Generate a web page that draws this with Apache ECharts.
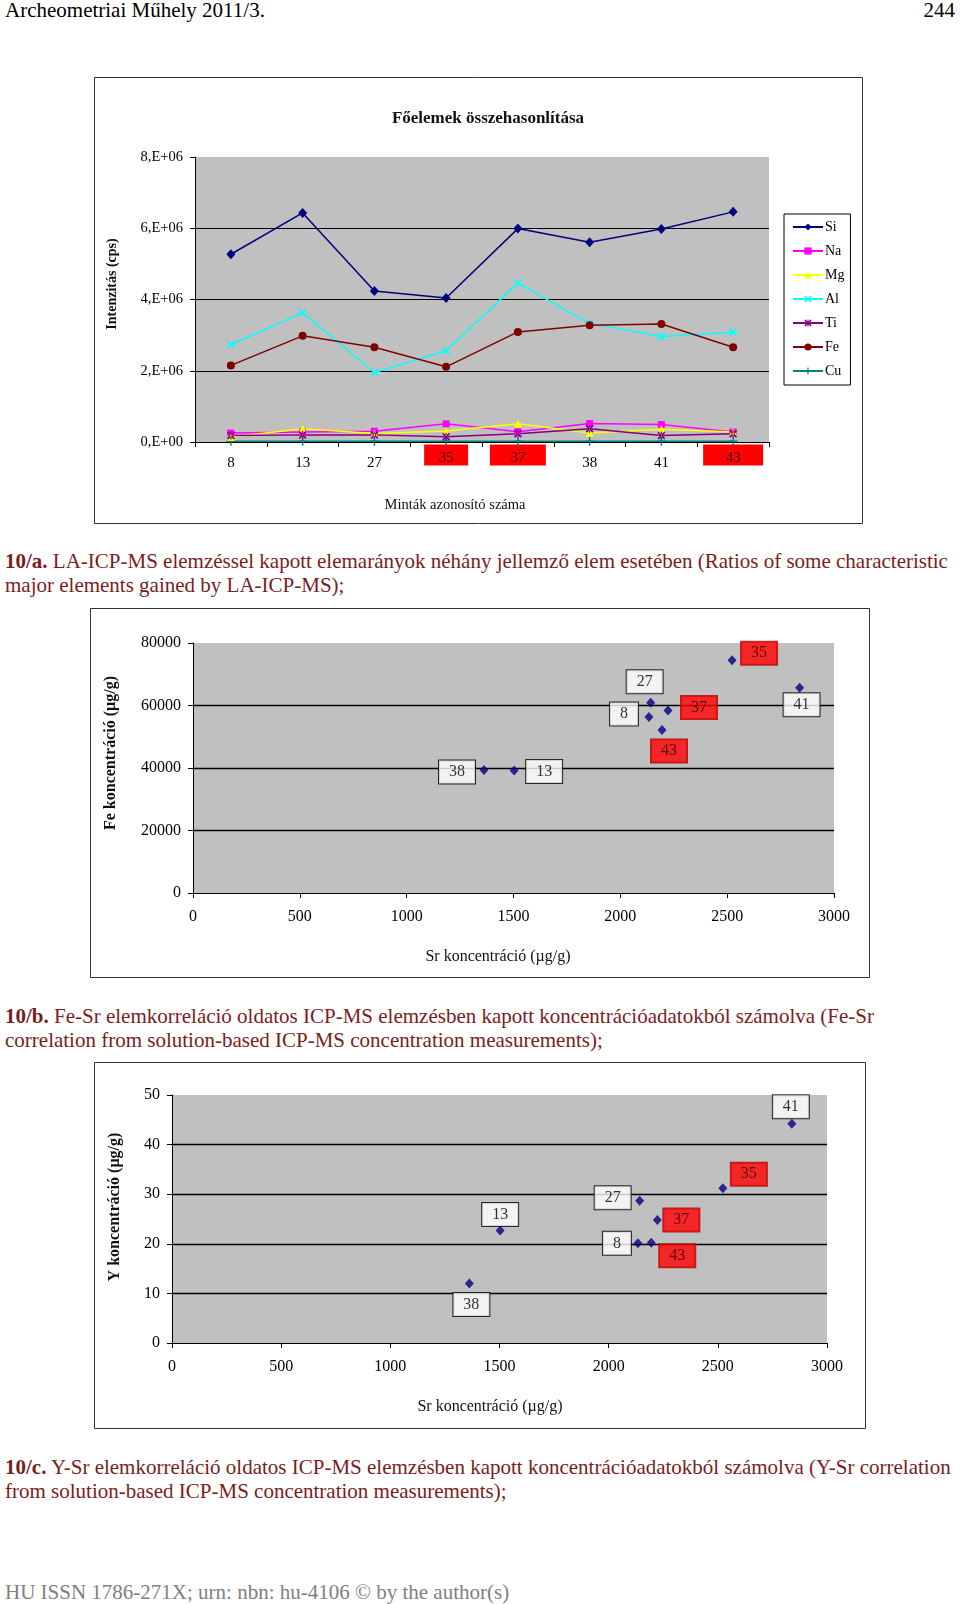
<!DOCTYPE html>
<html><head><meta charset="utf-8">
<script src="https://cdn.jsdelivr.net/npm/echarts@6/dist/echarts.min.js"></script>
<style>
body{margin:0;background:#fff;width:960px;height:1604px;position:relative;overflow:hidden;font-family:"Liberation Serif",serif;}
.t{position:absolute;left:5px;font-size:21px;line-height:24px;white-space:nowrap;color:#7a1d1d;}
.c{position:absolute;}
</style></head><body>
<div class="t" style="top:-2px;color:#000">Archeometriai Műhely 2011/3.</div>
<div class="t" style="top:-2px;left:auto;right:5px;color:#000">244</div>
<div class="c" id="c1" style="left:94px;top:77px;width:769px;height:447px"></div>
<div class="t" style="top:549px"><b>10/a.</b> LA-ICP-MS elemzéssel kapott elemarányok néhány jellemző elem esetében (Ratios of some characteristic<br>major elements gained by LA-ICP-MS);</div>
<div class="c" id="c2" style="left:90px;top:608px;width:780px;height:370px"></div>
<div class="t" style="top:1004px"><b>10/b.</b> Fe-Sr elemkorreláció oldatos ICP-MS elemzésben kapott koncentrációadatokból számolva (Fe-Sr<br>correlation from solution-based ICP-MS concentration measurements);</div>
<div class="c" id="c3" style="left:94px;top:1062px;width:772px;height:367px"></div>
<div class="t" style="top:1455px"><b>10/c.</b> Y-Sr elemkorreláció oldatos ICP-MS elemzésben kapott koncentrációadatokból számolva (Y-Sr correlation<br>from solution-based ICP-MS concentration measurements);</div>
<div class="t" style="top:1580px;color:#808080">HU ISSN 1786-271X; urn: nbn: hu-4106 © by the author(s)</div>
<script>
// ---- data ----
const samples = ['8','13','27','35','37','38','41','43'];
const highlighted = ['35','37','43'];
const elementNames = ['Si','Na','Mg','Al','Ti','Fe','Cu'];
const si = [5.27e6, 6.43e6, 4.24e6, 4.04e6, 5.99e6, 5.61e6, 5.98e6, 6.46e6];
const na = [0.25e6, 0.28e6, 0.30e6, 0.51e6, 0.29e6, 0.52e6, 0.49e6, 0.28e6];
const mg = [0.14e6, 0.37e6, 0.24e6, 0.31e6, 0.51e6, 0.25e6, 0.36e6, 0.28e6];
const al = [2.73e6, 3.63e6, 1.95e6, 2.56e6, 4.46e6, 3.33e6, 2.96e6, 3.08e6];
const ti = [0.18e6, 0.20e6, 0.20e6, 0.15e6, 0.23e6, 0.37e6, 0.18e6, 0.23e6];
const fe = [2.15e6, 2.98e6, 2.66e6, 2.11e6, 3.09e6, 3.28e6, 3.31e6, 2.66e6];
const cu = [0.02e6, 0.02e6, 0.02e6, 0.02e6, 0.02e6, 0.02e6, 0.02e6, 0.02e6];
// solution ICP-MS (same sample order)
const srConc = [2134, 1503, 2142, 2523, 2223, 1362, 2839, 2195];
const feConc = [56300, 39200, 60900, 74500, 58400, 39400, 65700, 52200];
const yConc  = [20.1, 22.7, 28.7, 31.2, 24.8, 12.0, 44.2, 20.2];
const yTicks1 = [0, 2e6, 4e6, 6e6, 8e6];

// ---- styling / layout ----
const FF = 'Liberation Serif';
const seriesStyle = {
  Si: {color:'#000080', symbol:'diamond', size:[9,10]},
  Na: {color:'#ff00ff', symbol:'rect', size:7},
  Mg: {color:'#ffff00', symbol:'triangle', size:8},
  Al: {color:'#00ffff', symbol:'path://M0,1.5L1.5,0L5,3.5L8.5,0L10,1.5L6.5,5L10,8.5L8.5,10L5,6.5L1.5,10L0,8.5L3.5,5Z', size:8},
  Ti: {color:'#800080', symbol:'path://M0,1.5L1.5,0L5,3.5L8.5,0L10,1.5L6.5,5L10,8.5L8.5,10L5,6.5L1.5,10L0,8.5L3.5,5Z M4.3,0L4.3,10L5.7,10L5.7,0Z', size:8},
  Fe: {color:'#800000', symbol:'circle', size:8},
  Cu: {color:'#008080', symbol:'path://M4.2,0L5.8,0L5.8,4.2L10,4.2L10,5.8L5.8,5.8L5.8,10L4.2,10L4.2,5.8L0,5.8L0,4.2L4.2,4.2Z', size:9}
};
const elemValues = {Si:si, Na:na, Mg:mg, Al:al, Ti:ti, Fe:fe, Cu:cu};

function frame(w, h){
  return {type:'rect', shape:{x:0.5, y:0.5, width:w-1, height:h-1}, style:{fill:'none', stroke:'#333', lineWidth:1}, z:-1};
}
function gtext(x, y, text, size, bold, rot){
  return {type:'text', x:x, y:y, rotation:rot||0,
    style:{text:text, fontSize:size, fontFamily:FF, fontWeight:bold?'bold':'normal', fill:'#111', align:'center', verticalAlign:'middle'}};
}

// ---- chart 1 ----
const c1 = echarts.init(document.getElementById('c1'));
const rich1 = {n:{padding:[15,0,0,0], lineHeight:15, fontSize:15, fontFamily:FF, color:'#000'}};
const redW = {'35':44, '37':56, '43':60};
highlighted.forEach(h => { rich1['r'+h] = {backgroundColor:'#ff0000', width:redW[h]||44, height:14, lineHeight:14, padding:[7,0,0,0], align:'center', fontSize:15, fontFamily:FF, color:'#400000'}; });
c1.setOption({
  animation:false,
  textStyle:{fontFamily:FF},
  grid:{left:101, top:80, width:574, height:285, show:true, backgroundColor:'#c0c0c0', borderWidth:0},
  graphic:[frame(769,447),
    gtext(394, 42, 'Főelemek összehasonlítása', 17, true),
    gtext(18, 207, 'Intenzitás (cps)', 14, true, Math.PI/2),
    gtext(361, 428, 'Minták azonosító száma', 14.5, false)],
  legend:{orient:'vertical', left:690, top:137, backgroundColor:'#fff', borderColor:'#000', borderWidth:1,
    padding:[6,6,7,8], itemWidth:30, itemHeight:9, itemGap:10,
    textStyle:{fontSize:14, fontFamily:FF, color:'#000', padding:[0,0,0,-3]}, data:elementNames},
  xAxis:{type:'category', data:samples, boundaryGap:true,
    axisLine:{lineStyle:{color:'#000', width:1}},
    axisTick:{show:true, length:5, lineStyle:{color:'#000'}},
    axisLabel:{margin:6, verticalAlign:'top', interval:0,
      formatter:v => highlighted.includes(v) ? '{r'+v+'|'+v+'}' : '{n|'+v+'}', rich:rich1}},
  yAxis:{type:'value', min:yTicks1[0], max:yTicks1[yTicks1.length-1], interval:yTicks1[1]-yTicks1[0],
    axisLine:{show:true, lineStyle:{color:'#000'}},
    axisTick:{show:true, length:5, lineStyle:{color:'#000'}},
    axisLabel:{margin:12, fontSize:14.5, fontFamily:FF, color:'#000',
      formatter:v => v===0 ? '0,E+00' : (v/1e6)+',E+06'},
    splitLine:{show:true, showMinLine:false, showMaxLine:false, lineStyle:{color:'#000', width:1}}},
  series: elementNames.map(n => ({
    name:n, type:'line', data:elemValues[n], symbol:seriesStyle[n].symbol, symbolSize:seriesStyle[n].size,
    showAllSymbol:true, lineStyle:{color:seriesStyle[n].color, width:1.5},
    itemStyle:{color:seriesStyle[n].color}, z: n==='Cu'?1:2
  }))
});

// ---- scatter charts ----
const feOffsets = {'8':[-25,-3],'13':[30,1],'27':[-6,-21],'35':[27,-7],'37':[31,-3],'38':[-27,2],'41':[2,17],'43':[7,21]};
const yOffsets  = {'8':[-21,0],'13':[0,-16],'27':[-27,-3],'35':[26,-14],'37':[24,0],'38':[2,21],'41':[-1,-17],'43':[26,13]};

function scatterOption(vals, yMax, yInt, yName, offsets, gridCfg, w, h, nameY, nameX){
  const data = samples.map((s,i) => {
    const red = highlighted.includes(s);
    return {value:[srConc[i], vals[i]], name:s,
      label:{show:true, formatter:s, position:'inside', offset:offsets[s],
        backgroundColor: red ? '#ff0000' : '#ffffff', borderColor: red ? '#a00000' : '#000', borderWidth:1,
        padding:[5,10,2,10], lineHeight:16, fontSize:16, fontFamily:FF, color: red ? '#400000' : '#000'}};
  });
  return {
    animation:false,
    textStyle:{fontFamily:FF},
    grid:Object.assign({show:true, backgroundColor:'#c0c0c0', borderWidth:0}, gridCfg),
    graphic:[frame(w,h),
      gtext(nameY[0], nameY[1], yName, 16, true, Math.PI/2),
      gtext(nameX[0], nameX[1], 'Sr koncentráció (µg/g)', 16, false)],
    xAxis:{type:'value', min:0, max:3000, interval:500,
      axisLine:{show:true, onZero:false, lineStyle:{color:'#000'}},
      axisTick:{show:true, length:5, lineStyle:{color:'#000'}},
      axisLabel:{margin:16, fontSize:16, fontFamily:FF, color:'#000', formatter:v => String(v)},
      splitLine:{show:false}},
    yAxis:{type:'value', min:0, max:yMax, interval:yInt,
      axisLine:{show:true, lineStyle:{color:'#000'}},
      axisTick:{show:true, length:5, lineStyle:{color:'#000'}},
      axisLabel:{margin:12, fontSize:16, fontFamily:FF, color:'#000', formatter:v => String(v)},
      splitLine:{show:true, showMinLine:false, showMaxLine:false, lineStyle:{color:'#000', width:1.3}}},
    series:[{type:'scatter', data:data, symbol:'diamond', symbolSize:[9,10], itemStyle:{color:'#000080'}}]
  };
}
const c2 = echarts.init(document.getElementById('c2'));
c2.setOption(scatterOption(feConc, 80000, 20000, 'Fe koncentráció (µg/g)', feOffsets,
  {left:103, top:35, width:641, height:250}, 780, 370, [21,145], [408,349]));
const c3 = echarts.init(document.getElementById('c3'));
c3.setOption(scatterOption(yConc, 50, 10, 'Y koncentráció (µg/g)', yOffsets,
  {left:78, top:33, width:655, height:248}, 772, 367, [21,145], [396,345]));
</script>
</body></html>
